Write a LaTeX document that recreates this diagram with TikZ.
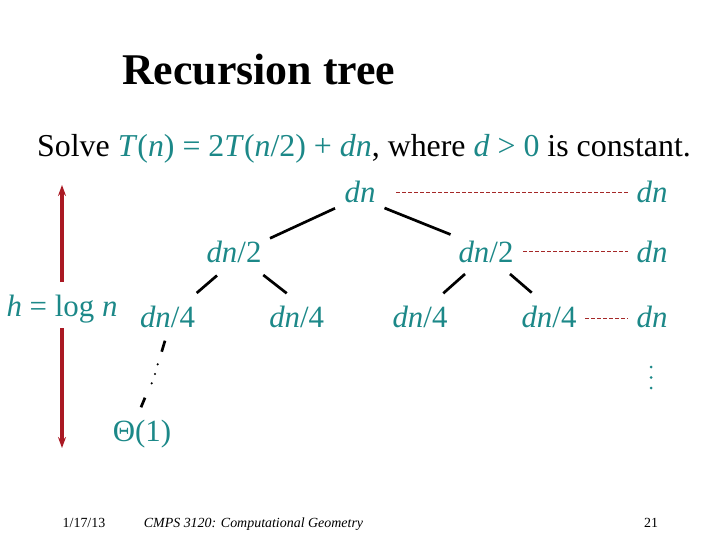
\documentclass[tikz,border=0pt]{standalone}
\usepackage{fontspec}
\setmainfont{Liberation Serif}
\usetikzlibrary{arrows.meta,calc}
\definecolor{tl}{RGB}{28,136,136}
\definecolor{dred}{RGB}{170,25,35}
\definecolor{dashred}{RGB}{165,40,40}
\begin{document}
\begin{tikzpicture}[x=1bp,y=-1bp,
  lbl/.style={anchor=base,inner sep=0pt,text height=21bp,text depth=7bp,text=tl,font=\fontsize{31}{36}\selectfont},
  edge/.style={line width=2.7bp,black},
  lev/.style={draw=dashred,line width=0.9bp,dash pattern=on 4bp off 2bp},
  harrow/.style={draw=dred,line width=3.2bp,-{Stealth[length=11bp,width=8bp]}},
  foot/.style={anchor=base,inner sep=0pt,font=\fontsize{14}{16}\selectfont}]
\useasboundingbox (0,0) rectangle (720,540);

% title and statement
\node[anchor=base west,inner sep=0pt,font=\fontsize{44}{50}\selectfont\bfseries] (title) at (122,85) {Recursion tree};
\node[anchor=base west,inner sep=0pt,font=\fontsize{32}{38}\selectfont] (eq) at (37,157)
  {Solve \textcolor{tl}{\textit{T}(\textit{n}) = 2\textit{T}(\textit{n}/2) + \textit{dn}}, where \textcolor{tl}{\textit{d} > 0} is constant.};

% tree nodes
\node[lbl] (top) at (360,203) {\textit{dn}};
\node[lbl] (l2) at (234,263) {\textit{dn}/2};
\node[lbl] (r2) at (486,263) {\textit{dn}/2};
\node[lbl] (a4) at (167.5,327) {\textit{dn}/4};
\node[lbl] (b4) at (296.7,327) {\textit{dn}/4};
\node[lbl] (c4) at (420,327) {\textit{dn}/4};
\node[lbl] (d4) at (549,327) {\textit{dn}/4};
\node[lbl] (th) at (142,441) {Θ(1)};

% level sums
\node[lbl] (s1) at (652,203) {\textit{dn}};
\node[lbl] (s2) at (652,263) {\textit{dn}};
\node[lbl] (s3) at (652,327) {\textit{dn}};

% height label
\node[lbl] (hl) at (62,316) {\textit{h} = log \textit{n}};

% tree edges
\draw[edge] ($(top)+(-25,12.3)$) -- ($(l2)+(36,-17.7)$);
\draw[edge] ($(top)+(24.5,12)$) -- ($(r2)+(-35.5,-21.5)$);
\draw[edge] ($(l2)+(-17,19.5)$) -- ($(a4)+(29.2,-27)$);
\draw[edge] ($(l2)+(29.3,19)$) -- ($(b4)+(-10,-26.7)$);
\draw[edge] ($(r2)+(-21,18)$) -- ($(c4)+(23.3,-26.7)$);
\draw[edge] ($(r2)+(24,18)$) -- ($(d4)+(-17.3,-27.3)$);

% path to the leaf
\draw[edge] ($(a4)+(-2.5,20.7)$) -- ($(a4)+(-5.8,31.7)$);
\fill ($(a4)+(-9.8,44.3)$) circle (1.2);
\fill ($(a4)+(-12.5,54)$) circle (1.2);
\fill ($(a4)+(-15.8,63.3)$) circle (1.2);
\draw[edge] ($(th)+(3,-36.3)$) -- ($(th)+(-1,-26.7)$);

% dashed level lines
\draw[lev] ($(top)+(36,-3.3)$) -- ($(s1)+(-23,-3.3)$);
\draw[lev] ($(r2)+(37.3,-4.3)$) -- ($(s2)+(-23.7,-4.3)$);
\draw[lev] ($(d4)+(36,-1.7)$) -- ($(s3)+(-24.3,-1.7)$);

% vertical dots
\fill[tl] ($(s3)+(-1,47)$) circle (1.5);
\fill[tl] ($(s3)+(-1,57.5)$) circle (1.5);
\fill[tl] ($(s3)+(-1,68)$) circle (1.5);

% height arrow
\coordinate (atop) at (62,185);
\coordinate (abot) at (62,448);
\coordinate (gt) at (62,282);
\coordinate (gb) at (62,328);
\draw[harrow] (gt) -- (atop);
\draw[harrow] (gb) -- (abot);

% footer
\node[foot] (date) at (84,527) {1/17/13};
\node[foot] (course) at (253.5,527) {\textit{CMPS 3120: Computational Geometry}};
\node[foot] (page) at (651,527) {21};
\end{tikzpicture}
\end{document}
